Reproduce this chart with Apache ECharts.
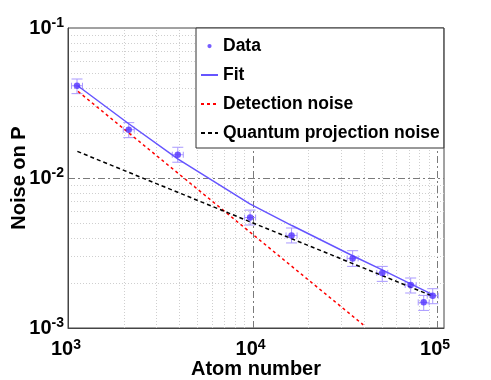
<!DOCTYPE html>
<html><head><meta charset="utf-8">
<script src="https://cdn.jsdelivr.net/npm/echarts@6/dist/echarts.min.js"></script>
<style>html,body{margin:0;padding:0;background:#fff}#c{width:491px;height:380px}</style>
</head><body><div id="c"></div>
<script>
// ---- data ----
const atomNumber = [1119, 2134, 3935, 9700, 16270, 34860, 50450, 71920, 84630, 94690];
const noise      = [0.0412, 0.0210, 0.01429, 0.00545, 0.00414, 0.00291, 0.00233, 0.001935, 0.001482, 0.001642];
const noiseLow   = [0.0365, 0.01858, 0.01274, 0.00486, 0.00369, 0.002575, 0.002046, 0.001711, 0.00131, 0.001452];
const noiseHigh  = [0.0457, 0.02339, 0.01603, 0.00611, 0.00464, 0.003276, 0.002575, 0.002154, 0.00165, 0.001828];
const atomLow    = [1045, 1993, 3674, 9057, 15190, 32550, 47100, 67150, 79020, 88410];
const atomHigh   = [1198, 2286, 4214, 10389, 17430, 37340, 54030, 77030, 90640, 101410];
const fitN       = [1129, 2134, 3950, 9669, 16340, 34860, 50440, 71920, 94690];
const fitNoise   = [0.0412, 0.0230, 0.01338, 0.00672, 0.00482, 0.00303, 0.00244, 0.00197, 0.00167];
const detN       = [1133, 39800];
const detNoise   = [0.0378, 0.00105];
const qpnN       = [1124, 94690];
const qpnNoise   = [0.01504, 0.00163];
// axis ranges and grid lines
const xRange = [1000, 109000];
const yRange = [0.001, 0.1];
const xMinorGrid = [2000, 3000, 4000, 5000, 6000, 7000, 8000, 9000, 20000, 30000, 40000, 50000, 60000, 70000, 80000, 90000];
const xMajorGrid = [10000, 100000];
const yMinorGrid = [0.002, 0.003, 0.004, 0.005, 0.006, 0.007, 0.008, 0.009, 0.02, 0.03, 0.04, 0.05, 0.06, 0.07, 0.08, 0.09];
const yMajorGrid = [0.01];
const seriesNames = ['Data', 'Fit', 'Detection noise', 'Quantum projection noise'];
const xTitle = 'Atom number';
const yTitle = 'Noise on P';

const FONT = '"Liberation Sans", Arial, Helvetica, sans-serif';

const gridData = []
  .concat(xMinorGrid.map(v => [v, 0.01, 0, 0]))
  .concat(xMajorGrid.map(v => [v, 0.01, 0, 1]))
  .concat(yMinorGrid.map(v => [10000, v, 1, 0]))
  .concat(yMajorGrid.map(v => [10000, v, 1, 1]));

const errData = atomNumber.map((x, i) => [x, noise[i], atomLow[i], atomHigh[i], noiseLow[i], noiseHigh[i]]);

function expLabel(v) {
  const e = Math.log10(v);
  if (Math.abs(e - Math.round(e)) > 1e-6) return '';
  return '{b|10}{e|' + Math.round(e) + '}';
}
const richLab = {
  b: {fontSize: 20, fontWeight: 'bold', fontFamily: FONT, color: '#000', lineHeight: 22},
  e: {fontSize: 14, fontWeight: 'bold', fontFamily: FONT, color: '#000', padding: [0, 0, 9, 0]}
};

const chart = echarts.init(document.getElementById('c'), null, {renderer: 'canvas'});
chart.setOption({
  animation: false,
  backgroundColor: '#fff',
  grid: {left: 68, top: 28, width: 376, height: 300, show: true, borderColor: '#444', borderWidth: 1,
         backgroundColor: 'transparent', containLabel: false, outerBoundsMode: 'none'},
  legend: {
    data: [
      {name: seriesNames[0], icon: 'path://M0 0M20 0M20 14M0 14M7.5 7a2.5 2.5 0 1 0 5 0a2.5 2.5 0 1 0 -5 0Z'},
      {name: seriesNames[1], itemStyle: {opacity: 0}},
      {name: seriesNames[2], itemStyle: {opacity: 0}},
      {name: seriesNames[3], itemStyle: {opacity: 0}}
    ],
    orient: 'vertical', left: 196, top: 28,
    padding: [9, 4, 6, 4], itemGap: 11, itemWidth: 17, itemHeight: 14,
    backgroundColor: '#fff', borderColor: '#333', borderWidth: 1, borderRadius: 0,
    textStyle: {fontSize: 17.5, fontWeight: 'bold', fontFamily: FONT, color: '#000', lineHeight: 18},
    z: 10
  },
  xAxis: {
    type: 'log', logBase: 10, min: xRange[0], max: xRange[1],
    name: xTitle, nameLocation: 'middle', nameGap: 31, nameMoveOverlap: false,
    nameTextStyle: {fontSize: 20, fontWeight: 'bold', fontFamily: FONT, color: '#000'},
    axisLine: {show: true, lineStyle: {color: '#444', width: 1}},
    axisTick: {show: false},
    splitLine: {show: false},
    axisLabel: {formatter: expLabel, rich: richLab, margin: 10, color: '#000', padding: [0, 4, 0, 0]}
  },
  yAxis: {
    type: 'log', logBase: 10, min: yRange[0], max: yRange[1],
    name: yTitle, nameLocation: 'middle', nameGap: 39, nameMoveOverlap: false,
    nameTextStyle: {fontSize: 20, fontWeight: 'bold', fontFamily: FONT, color: '#000'},
    axisLine: {show: true, lineStyle: {color: '#444', width: 1}},
    axisTick: {show: false},
    splitLine: {show: false},
    axisLabel: {formatter: expLabel, rich: richLab, margin: 4, color: '#000'}
  },
  series: [
    {
      type: 'custom', name: 'gridlines', silent: true, z: 0,
      data: gridData, encode: {x: 0, y: 1},
      renderItem: function (params, api) {
        const o = api.value(2), m = api.value(3);
        let p1, p2;
        if (o === 0) { p1 = api.coord([api.value(0), yRange[0]]); p2 = api.coord([api.value(0), yRange[1]]); }
        else { p1 = api.coord([xRange[0], api.value(1)]); p2 = api.coord([xRange[1], api.value(1)]); }
        const r = v => Math.round(v) + 0.5;
        return {type: 'line',
          shape: {x1: o === 0 ? r(p1[0]) : p1[0], y1: o === 1 ? r(p1[1]) : p1[1], x2: o === 0 ? r(p2[0]) : p2[0], y2: o === 1 ? r(p2[1]) : p2[1]},
          style: {stroke: m ? '#7a7a7a' : '#cfcfcf', lineWidth: 1, lineDash: m ? [7, 3, 2, 3] : [1, 2]}};
      }
    },
    {
      type: 'custom', name: 'errors', silent: true, z: 3,
      data: errData, encode: {x: 0, y: 1},
      renderItem: function (params, api) {
        const x = api.value(0), y = api.value(1);
        const c = api.coord([x, y]);
        const lo = api.coord([x, api.value(4)]), hi = api.coord([x, api.value(5)]);
        const l = api.coord([api.value(2), y]), rr = api.coord([api.value(3), y]);
        const cw = 5.5, ch = 3;
        const st = {stroke: '#a999ff', lineWidth: 1};
        const ln = (x1, y1, x2, y2) => ({type: 'line', shape: {x1, y1, x2, y2}, style: st});
        return {type: 'group', children: [
          ln(c[0], hi[1], c[0], lo[1]),
          ln(c[0] - cw, hi[1], c[0] + cw, hi[1]),
          ln(c[0] - cw, lo[1], c[0] + cw, lo[1]),
          ln(l[0], c[1], rr[0], c[1]),
          ln(l[0], c[1] - ch, l[0], c[1] + ch),
          ln(rr[0], c[1] - ch, rr[0], c[1] + ch)
        ]};
      }
    },
    {
      type: 'scatter', name: seriesNames[0], z: 5,
      data: atomNumber.map((x, i) => [x, noise[i]]),
      symbol: 'circle', symbolSize: 6.5,
      itemStyle: {color: '#5233ff'}
    },
    {
      type: 'line', name: seriesNames[1], z: 4, smooth: false,
      data: fitN.map((x, i) => [x, fitNoise[i]]),
      symbol: 'none', showSymbol: false,
      lineStyle: {color: '#6655ff', width: 1.5}, itemStyle: {color: '#6655ff'}
    },
    {
      type: 'line', name: seriesNames[2], z: 4,
      data: detN.map((x, i) => [x, detNoise[i]]),
      symbol: 'none', showSymbol: false,
      lineStyle: {color: '#ff0000', width: 1.5, type: [3, 3]}, itemStyle: {color: '#ff0000'}
    },
    {
      type: 'line', name: seriesNames[3], z: 4,
      data: qpnN.map((x, i) => [x, qpnNoise[i]]),
      symbol: 'none', showSymbol: false,
      lineStyle: {color: '#000000', width: 1.5, type: [4, 3]}, itemStyle: {color: '#000000'}
    }
  ]
});
</script>
</body></html>
